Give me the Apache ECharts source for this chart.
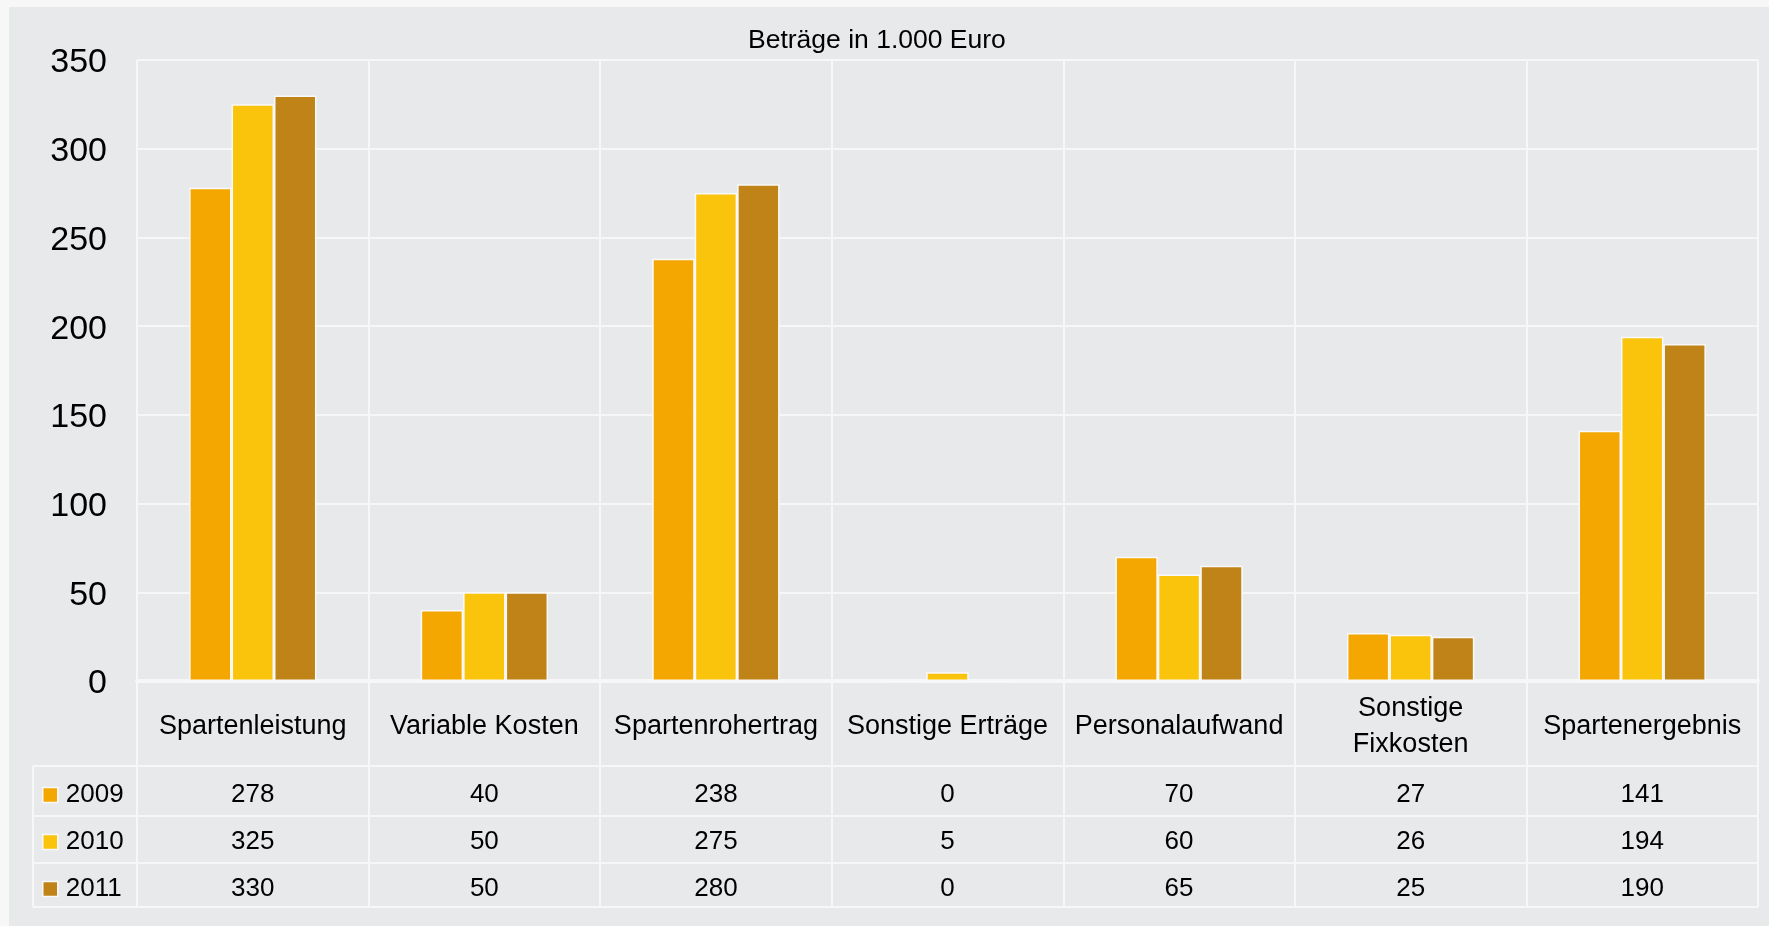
<!DOCTYPE html>
<html>
<head>
<meta charset="utf-8">
<script src="https://cdn.jsdelivr.net/npm/echarts@6/dist/echarts.min.js"></script>
<style>
  html, body { margin: 0; padding: 0; background: #f7f7f7; width: 1769px; height: 926px; overflow: hidden; }
  #chart { position: absolute; left: 9px; top: 7px; width: 1760px; height: 919px; background: #e8e9eb; }
</style>
</head>
<body>
<div id="chart"></div>
<script>
const title = 'Beträge in 1.000 Euro';
const categories = ['Spartenleistung', 'Variable Kosten', 'Spartenrohertrag', 'Sonstige Erträge', 'Personalaufwand', 'Sonstige\nFixkosten', 'Spartenergebnis'];
const years = ['2009', '2010', '2011'];
const values2009 = [278, 40, 238, 0, 70, 27, 141];
const values2010 = [325, 50, 275, 5, 60, 26, 194];
const values2011 = [330, 50, 280, 0, 65, 25, 190];
const yTicks = [0, 50, 100, 150, 200, 250, 300, 350];
const colors = ['#f4a700', '#fac30c', '#c08317'];

const seriesValues = [values2009, values2010, values2011];
const FONT = '"Liberation Sans", Arial, sans-serif';
const LINE = '#f7f7f7';

const chart = echarts.init(document.getElementById('chart'), null, { renderer: 'canvas' });

// layout (chart coords)
const gridLeft = 128, gridRight = 11, plotTop = 53, plotBottom = 674;
const tableBottom = 900;
const rowCenters = [788, 835, 882];
const rowRules = [759, 809, 856, 900];
const legendColX = 24;
const yLabelShift = 3;

const grids = [
  { left: gridLeft, right: gridRight, top: plotTop, height: plotBottom - plotTop },
  { left: gridLeft, right: gridRight, top: plotBottom, height: tableBottom - plotBottom },
  { left: gridLeft, right: gridRight, top: plotTop + yLabelShift, height: plotBottom - plotTop }
];
rowCenters.forEach(c => grids.push({ left: gridLeft, right: gridRight, top: c, height: 10 }));

const xAxes = [
  {
    gridIndex: 0, type: 'category', data: categories, position: 'bottom',
    axisLine: { show: true, lineStyle: { color: LINE, width: 4 } },
    axisTick: { show: false },
    splitLine: { show: true, lineStyle: { color: LINE, width: 2 } },
    axisLabel: { interval: 0, margin: 46, verticalAlign: 'middle', fontSize: 27, lineHeight: 36, color: '#000', fontFamily: FONT }
  },
  {
    gridIndex: 1, type: 'category', data: categories,
    axisLine: { show: false }, axisTick: { show: false }, axisLabel: { show: false },
    splitLine: { show: true, lineStyle: { color: LINE, width: 2 } }
  },
  {
    gridIndex: 2, type: 'category', data: categories, show: false
  }
];
seriesValues.forEach((vals, i) => {
  xAxes.push({
    gridIndex: 3 + i, type: 'category', data: categories, position: 'top',
    axisLine: { show: false }, axisTick: { show: false }, splitLine: { show: false },
    axisLabel: {
      interval: 0, margin: 0, verticalAlign: 'middle', fontSize: 26, color: '#000', fontFamily: FONT,
      formatter: (v, idx) => String(vals[idx])
    }
  });
});

const yAxes = [
  {
    gridIndex: 0, type: 'value', min: yTicks[0], max: yTicks[yTicks.length - 1], interval: 50,
    axisLine: { show: false }, axisTick: { show: false },
    splitLine: { show: true, lineStyle: { color: LINE, width: 2 } },
    axisLabel: { show: false }
  },
  { gridIndex: 1, type: 'value', show: false, splitLine: { show: false } },
  {
    gridIndex: 2, type: 'value', min: yTicks[0], max: yTicks[yTicks.length - 1], interval: 50,
    axisLine: { show: false }, axisTick: { show: false }, splitLine: { show: false },
    axisLabel: { margin: 30, fontSize: 34, color: '#000', fontFamily: FONT }
  }
];
for (let g = 3; g < grids.length; g++) {
  yAxes.push({ gridIndex: g, type: 'value', show: false, splitLine: { show: false } });
}

const series = years.map((y, i) => ({
  name: y, type: 'bar', xAxisIndex: 0, yAxisIndex: 0,
  data: seriesValues[i],
  barGap: '0%', barCategoryGap: '45%',
  itemStyle: { color: colors[i], borderColor: '#f9f9f9', borderWidth: 1.5 },
  emphasis: { disabled: true }
}));

chart.setOption({
  animation: false,
  textStyle: { fontFamily: FONT },
  title: {
    text: title, left: 739, top: 20, padding: 0,
    textStyle: { fontSize: 26.5, fontWeight: 'normal', color: '#000', fontFamily: FONT }
  },
  legend: {
    data: years, orient: 'vertical', left: 33, top: 775, padding: 0,
    itemWidth: 15, itemHeight: 15, itemGap: 21, icon: 'rect',
    itemStyle: { borderColor: '#f9f9f9', borderWidth: 1.5 },
    textStyle: { fontSize: 26, color: '#000', fontFamily: FONT, padding: [0, 0, 0, 3] },
    selectedMode: false
  },
  grid: grids,
  xAxis: xAxes,
  yAxis: yAxes,
  series: series
});

// table rules derived from the category axis
const n = categories.length;
const x0 = chart.convertToPixel({ xAxisIndex: 0 }, categories[0]);
const x1 = chart.convertToPixel({ xAxisIndex: 0 }, categories[n - 1]);
const band = (x1 - x0) / (n - 1);
const rightEdge = x1 + band / 2;
const graphics = rowRules.map(y => ({
  type: 'line', shape: { x1: legendColX, y1: y, x2: rightEdge, y2: y },
  style: { stroke: LINE, lineWidth: 2 }, silent: true
}));
graphics.push({
  type: 'line', shape: { x1: legendColX, y1: rowRules[0], x2: legendColX, y2: rowRules[rowRules.length - 1] },
  style: { stroke: LINE, lineWidth: 2 }, silent: true
});
chart.setOption({ graphic: graphics });
</script>
</body>
</html>
